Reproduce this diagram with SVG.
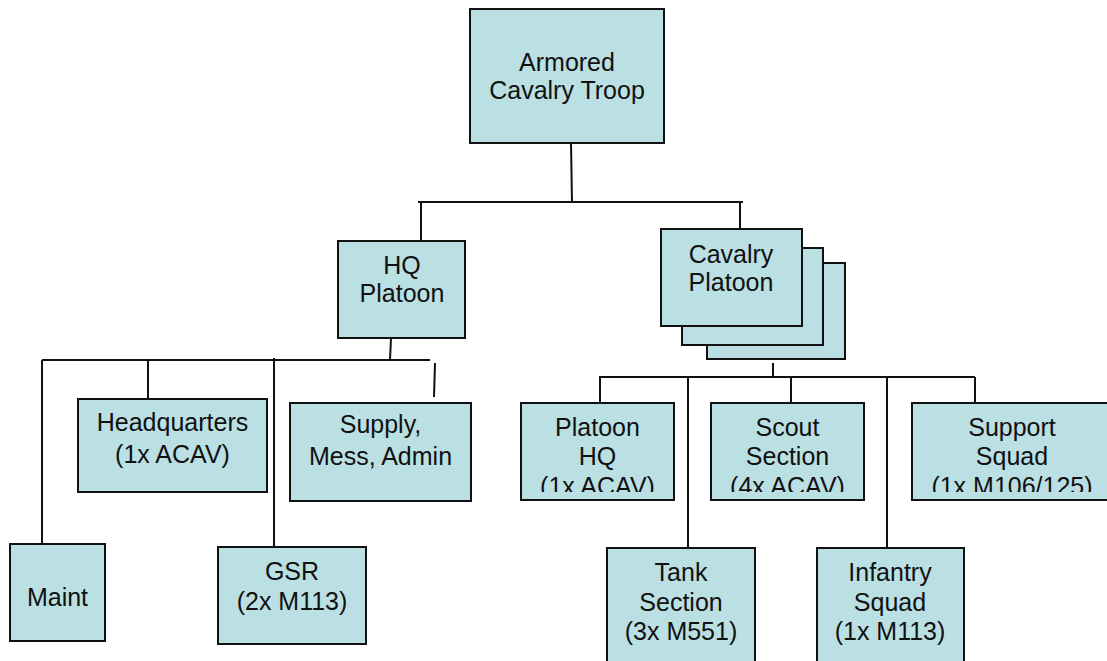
<svg xmlns="http://www.w3.org/2000/svg" width="1107" height="661" viewBox="0 0 1107 661">
<style>
.box{fill:#bbe0e3;stroke:#111;stroke-width:2}
.t{font-family:"Liberation Sans",Arial,sans-serif;font-size:25px;fill:#111;text-anchor:middle}
.c line{stroke:#111;stroke-width:2}
</style>
<defs>
<clipPath id="clipRow"><rect x="0" y="404" width="1107" height="88"/></clipPath>
</defs>
<rect width="1107" height="661" fill="#fff"/>
<g class="c" id="connectors">
<line x1="571" y1="143" x2="572" y2="202"/>
<line x1="418" y1="202" x2="743" y2="202"/>
<line x1="421" y1="202" x2="421" y2="241"/>
<line x1="740" y1="202" x2="740" y2="229"/>
<line x1="391" y1="338" x2="390" y2="360"/>
<line x1="42" y1="360" x2="430" y2="360"/>
<line x1="42" y1="360" x2="42" y2="544"/>
<line x1="148" y1="360" x2="148" y2="399"/>
<line x1="274" y1="358" x2="274" y2="547"/>
<line x1="435" y1="363" x2="434" y2="397"/>
<line x1="773" y1="363" x2="773" y2="377"/>
<line x1="599" y1="377" x2="975" y2="377"/>
<line x1="600" y1="377" x2="600" y2="403"/>
<line x1="688" y1="377" x2="688" y2="548"/>
<line x1="791" y1="377" x2="791" y2="403"/>
<line x1="887" y1="377" x2="887" y2="548"/>
<line x1="975" y1="377" x2="975" y2="403"/>
</g>
<g id="troop">
<rect class="box" x="470" y="9" width="194" height="134"/>
<text class="t" x="567" y="71">Armored</text>
<text class="t" x="567" y="99">Cavalry Troop</text>
</g>
<g id="hq-platoon">
<rect class="box" x="338" y="241" width="127" height="97"/>
<text class="t" x="402" y="274">HQ</text>
<text class="t" x="402" y="302">Platoon</text>
</g>
<g id="cavalry-platoon">
<rect class="box" x="707" y="263" width="138" height="96"/>
<rect class="box" x="682" y="248" width="141" height="97"/>
<rect class="box" x="661" y="229" width="141" height="97"/>
<text class="t" x="731" y="263">Cavalry</text>
<text class="t" x="731" y="291">Platoon</text>
</g>
<g id="headquarters">
<rect class="box" x="78" y="399" width="189" height="93"/>
<text class="t" x="172.5" y="431">Headquarters</text>
<text class="t" x="172.5" y="463">(1x ACAV)</text>
</g>
<g id="supply">
<rect class="box" x="290" y="403" width="181" height="98"/>
<text class="t" x="380.5" y="433">Supply,</text>
<text class="t" x="380.5" y="465">Mess, Admin</text>
</g>
<g id="maint">
<rect class="box" x="10" y="544" width="95" height="97"/>
<text class="t" x="57.5" y="606">Maint</text>
</g>
<g id="gsr">
<rect class="box" x="218" y="547" width="148" height="97"/>
<text class="t" x="292" y="580">GSR</text>
<text class="t" x="292" y="610">(2x M113)</text>
</g>
<g id="platoon-hq">
<rect class="box" x="521" y="403" width="153" height="97"/>
<g clip-path="url(#clipRow)">
<text class="t" x="597.5" y="436">Platoon</text>
<text class="t" x="597.5" y="465">HQ</text>
<text class="t" x="597.5" y="494.5">(1x ACAV)</text>
</g>
</g>
<g id="scout-section">
<rect class="box" x="711" y="403" width="153" height="97"/>
<g clip-path="url(#clipRow)">
<text class="t" x="787.5" y="436">Scout</text>
<text class="t" x="787.5" y="465">Section</text>
<text class="t" x="787.5" y="494.5">(4x ACAV)</text>
</g>
</g>
<g id="support-squad">
<rect class="box" x="912" y="403" width="200" height="97"/>
<g clip-path="url(#clipRow)">
<text class="t" x="1012" y="436">Support</text>
<text class="t" x="1012" y="465">Squad</text>
<text class="t" x="1012" y="494.5">(1x M106/125)</text>
</g>
</g>
<g id="tank-section">
<rect class="box" x="607" y="548" width="148" height="116"/>
<text class="t" x="681" y="581">Tank</text>
<text class="t" x="681" y="610.5">Section</text>
<text class="t" x="681" y="640">(3x M551)</text>
</g>
<g id="infantry-squad">
<rect class="box" x="817" y="548" width="147" height="116"/>
<text class="t" x="890" y="581">Infantry</text>
<text class="t" x="890" y="610.5">Squad</text>
<text class="t" x="890" y="640">(1x M113)</text>
</g>
</svg>
